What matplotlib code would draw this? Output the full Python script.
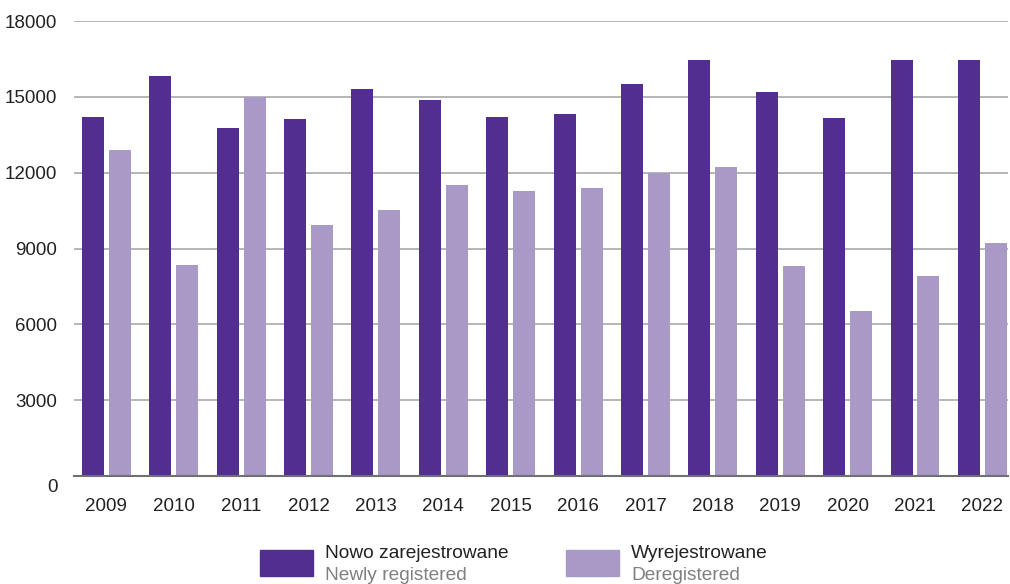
import matplotlib
matplotlib.use("Agg")
import matplotlib.pyplot as plt
import matplotlib.transforms as mtransforms
import numpy as np
from matplotlib.patches import Rectangle

plt.rcParams["font.family"] = ["Liberation Sans", "DejaVu Sans"]

years = ["2009", "2010", "2011", "2012", "2013", "2014", "2015",
         "2016", "2017", "2018", "2019", "2020", "2021", "2022"]
newly_registered = [14200, 15830, 13770, 14130, 15320, 14880, 14210,
                    14330, 15520, 16470, 15200, 14170, 16470, 16470]
deregistered = [12900, 8350, 14980, 9930, 10520, 11510, 11280,
                11400, 11990, 12230, 8310, 6520, 7910, 9220]

labels_pl = ["Nowo zarejestrowane", "Wyrejestrowane"]
labels_en = ["Newly registered", "Deregistered"]

DARK = "#522E91"
LIGHT = "#A899C7"

fig = plt.figure(figsize=(10.1, 5.84), dpi=100)
ax = fig.add_axes([74 / 1010, 1 - 476 / 584, (1008 - 74) / 1010, (476 - 21) / 584])

x = np.arange(len(years))
w = 0.326
ax.bar(x - 0.2, newly_registered, width=w, color=DARK, zorder=3)
ax.bar(x + 0.2, deregistered, width=w, color=LIGHT, zorder=3)

ax.set_xlim(-0.48, 13.38)
ax.set_ylim(0, 18000)
ax.set_yticks(range(0, 18001, 3000))
ax.set_xticks(x)
ax.set_xticklabels(years)
ax.yaxis.grid(True, color="#b0b0b0", lw=1.3, zorder=0)
for s in ["top", "right", "left"]:
    ax.spines[s].set_visible(False)
ax.spines["bottom"].set_color("#707070")
ax.spines["bottom"].set_linewidth(1.5)
ax.spines["bottom"].set_zorder(4)
ax.tick_params(axis="both", length=0, labelsize=13.5, labelcolor="#222222")
ax.tick_params(axis="y", pad=12)
ax.tick_params(axis="x", pad=16)

# the "0" label sits a bit below its gridline in the original
zero_lab = ax.get_yticklabels()[0]
zero_lab.set_transform(zero_lab.get_transform()
                       + mtransforms.ScaledTranslation(0, -9 / 100, fig.dpi_scale_trans))

# legend drawn by hand: two-line labels with different colours
legend_items = [(260, labels_pl[0], labels_en[0], DARK),
                (566, labels_pl[1], labels_en[1], LIGHT)]
for px, pl, en, col in legend_items:
    fig.patches.append(Rectangle((px / 1010, 1 - 576 / 584), 53 / 1010, 26 / 584,
                                 transform=fig.transFigure, color=col))
    fig.text((px + 65) / 1010, 1 - 554 / 584, pl, fontsize=13.8, color="#222222",
             va="center")
    fig.text((px + 65) / 1010, 1 - 575 / 584, en, fontsize=13.8, color="#808080",
             va="center")

fig.savefig("out.png", dpi=100)
